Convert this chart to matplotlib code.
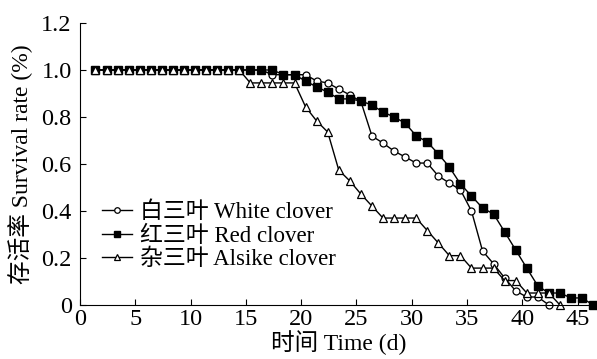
import matplotlib
matplotlib.use('Agg')
import matplotlib.pyplot as plt

plt.rcParams['font.family'] = ['Liberation Serif', 'Noto Sans CJK SC']

# time (d) of each observation
days_white = [1.4, 2.4, 3.4, 4.4, 5.4, 6.4, 7.4, 8.4, 9.4, 10.4, 11.4, 12.4, 13.4, 14.4,
              15.4, 16.4, 17.4, 18.4, 19.4, 20.4, 21.4, 22.4, 23.4, 24.4, 25.4, 26.4,
              27.4, 28.4, 29.4, 30.4, 31.4, 32.4, 33.4, 34.4, 35.4, 36.4, 37.4, 38.4,
              39.4, 40.4, 41.4, 42.4]
white = [1.0, 1.0, 1.0, 1.0, 1.0, 1.0, 1.0, 1.0, 1.0, 1.0, 1.0, 1.0, 1.0, 1.0,
         1.0, 1.0, 0.98, 0.98, 0.98, 0.98, 0.953, 0.945, 0.919, 0.894, 0.866, 0.719,
         0.689, 0.655, 0.630, 0.604, 0.604, 0.549, 0.519, 0.49, 0.40, 0.23, 0.175, 0.115,
         0.06, 0.034, 0.034, 0.0]

days_red = [1.4, 2.4, 3.4, 4.4, 5.4, 6.4, 7.4, 8.4, 9.4, 10.4, 11.4, 12.4, 13.4, 14.4,
            15.4, 16.4, 17.4, 18.4, 19.4, 20.4, 21.4, 22.4, 23.4, 24.4, 25.4, 26.4,
            27.4, 28.4, 29.4, 30.4, 31.4, 32.4, 33.4, 34.4, 35.4, 36.4, 37.4, 38.4,
            39.4, 40.4, 41.4, 42.4, 43.4, 44.4, 45.4, 46.4]
red = [1.0, 1.0, 1.0, 1.0, 1.0, 1.0, 1.0, 1.0, 1.0, 1.0, 1.0, 1.0, 1.0, 1.0,
       1.0, 1.0, 1.0, 0.98, 0.98, 0.953, 0.928, 0.906, 0.877, 0.877, 0.868, 0.851,
       0.821, 0.80, 0.774, 0.72, 0.694, 0.643, 0.587, 0.515, 0.464, 0.413, 0.387, 0.311,
       0.234, 0.157, 0.081, 0.051, 0.051, 0.03, 0.03, 0.0]

days_alsike = [1.4, 2.4, 3.4, 4.4, 5.4, 6.4, 7.4, 8.4, 9.4, 10.4, 11.4, 12.4, 13.4, 14.4,
               15.4, 16.4, 17.4, 18.4, 19.4, 20.4, 21.4, 22.4, 23.4, 24.4, 25.4, 26.4,
               27.4, 28.4, 29.4, 30.4, 31.4, 32.4, 33.4, 34.4, 35.4, 36.4, 37.4, 38.4,
               39.4, 40.4, 41.4, 42.4, 43.4]
alsike = [1.0, 1.0, 1.0, 1.0, 1.0, 1.0, 1.0, 1.0, 1.0, 1.0, 1.0, 1.0, 1.0, 1.0,
          0.945, 0.945, 0.945, 0.945, 0.945, 0.843, 0.783, 0.736, 0.574, 0.528, 0.472, 0.421,
          0.370, 0.370, 0.370, 0.370, 0.317, 0.264, 0.21, 0.21, 0.157, 0.157, 0.157, 0.104,
          0.104, 0.051, 0.051, 0.051, 0.0]

xticks = [0, 5, 10, 15, 20, 25, 30, 35, 40, 45]
yticks = [0, 0.2, 0.4, 0.6, 0.8, 1.0, 1.2]
ytick_labels = ['0', '0.2', '0.4', '0.6', '0.8', '1.0', '1.2']

fig = plt.figure(figsize=(5.97, 3.59), dpi=100)
ax = fig.add_axes([80 / 597, 54 / 359, 517 / 597, 282 / 359])

ax.plot(days_white, white, color='black', lw=1, marker='o', ms=5,
        mfc='white', mec='black', mew=0.9, clip_on=False, label='白三叶 White clover')
ax.plot(days_red, red, color='black', lw=1, marker='s', ms=6,
        mfc='black', mec='black', clip_on=False, label='红三叶 Red clover')
ax.plot(days_alsike, alsike, color='black', lw=1, marker='^', ms=5.5,
        mfc='white', mec='black', mew=0.9, clip_on=False, label='杂三叶 Alsike clover')

ax.set_xlim(0, 46.75)
ax.set_ylim(0, 1.2)
ax.set_xticks(xticks)
ax.set_yticks(yticks)
ax.set_yticklabels(ytick_labels)
ax.tick_params(direction='in', length=4, width=0.8, labelsize=17.5)
ax.tick_params(axis='x', pad=3)
ax.tick_params(axis='y', pad=6)
ax.spines['top'].set_visible(False)
ax.spines['right'].set_visible(False)

ax.set_xlabel('时间 Time (d)', fontsize=17, labelpad=0)
ax.set_ylabel('存活率 Survival rate (%)', fontsize=17, labelpad=6)

ax.legend(loc='lower left', bbox_to_anchor=(0.025, 0.09), frameon=False, fontsize=16.5,
          handlelength=1.3, handletextpad=0.35, labelspacing=0.1, borderaxespad=0,
          markerscale=0.8)

fig.savefig('out.png', dpi=100)
